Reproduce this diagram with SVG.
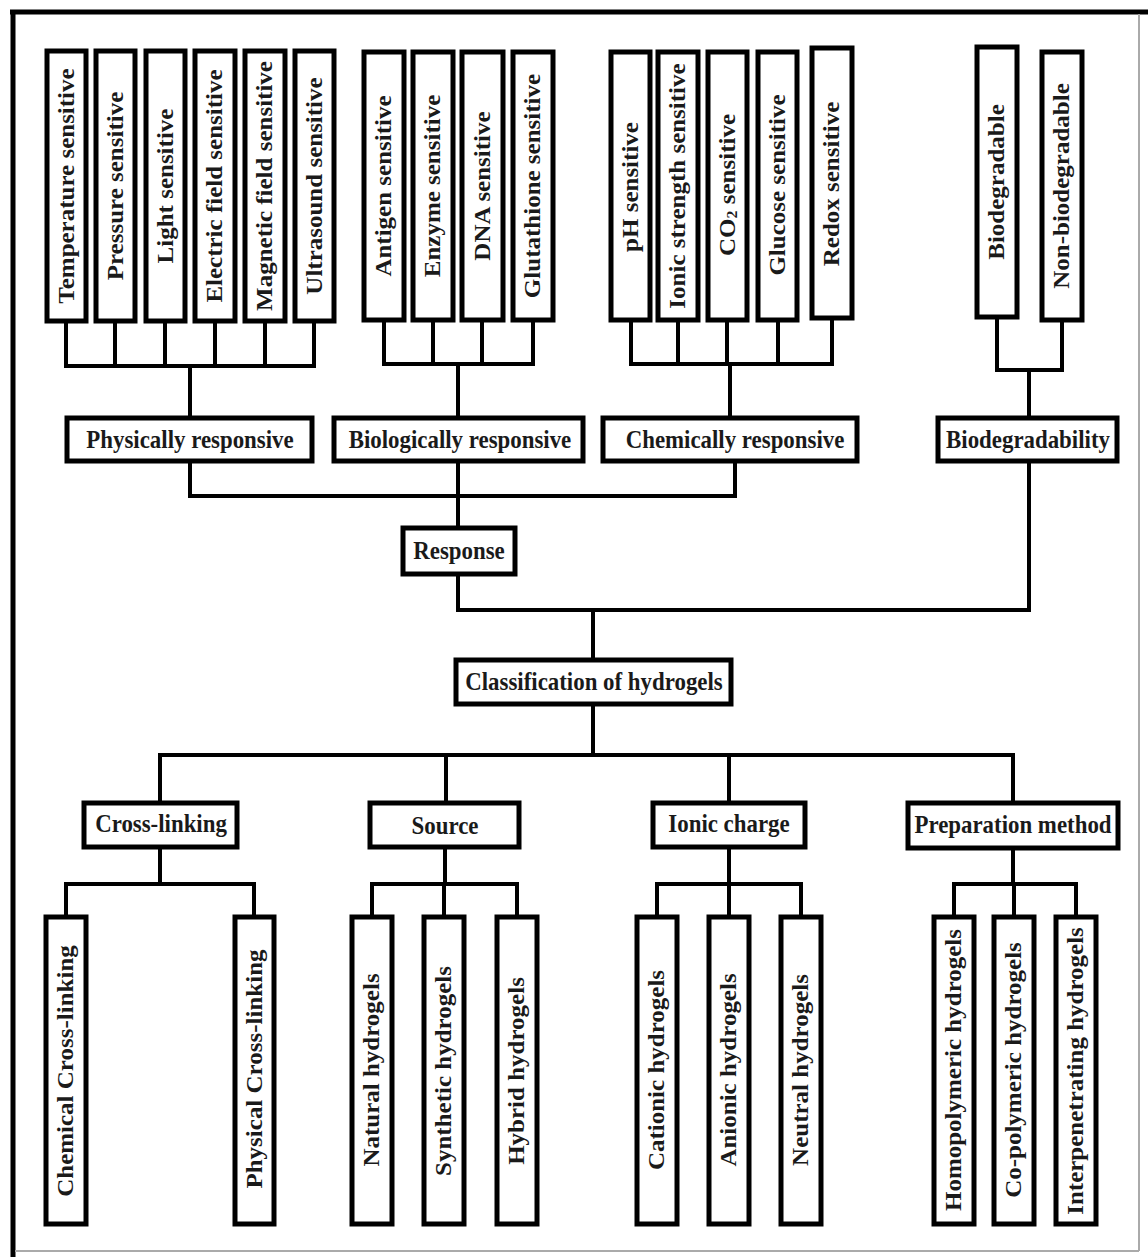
<svg xmlns="http://www.w3.org/2000/svg" width="1148" height="1257" viewBox="0 0 1148 1257">
<style>
.b{fill:#fff;stroke:#000;stroke-width:5}
.c{fill:none;stroke:#000;stroke-width:4;stroke-linecap:square}
text{font-family:"Liberation Serif","Times New Roman",serif;font-weight:bold;font-size:25px;fill:#1a1a1a}
.h{text-anchor:middle}
.v{text-anchor:middle}
</style>
<rect width="1148" height="1257" fill="#fff"/>
<g id="frame">
<line x1="10" y1="12" x2="1148" y2="12" stroke="#000" stroke-width="5"/>
<line x1="13" y1="10" x2="13" y2="1257" stroke="#000" stroke-width="5"/>
<line x1="1139" y1="14" x2="1139" y2="1251" stroke="#aaa" stroke-width="2"/>
<line x1="15" y1="1251" x2="1139" y2="1251" stroke="#aaa" stroke-width="2"/>
</g>
<g id="connectors">
<path class="c" d="M66 320V366H314V320M115 320V366M165 320V366M215 320V366M265 320V366M190 366V418"/>
<path class="c" d="M384 320V364H533V320M433 320V364M482 320V364M458 364V418"/>
<path class="c" d="M631 320V364H832V318M678 320V364M727 320V364M778 320V364M730 364V418"/>
<path class="c" d="M997 318V370H1062V320M1029 370V418"/>
<path class="c" d="M190 461V496H735V461M458 461V528"/>
<path class="c" d="M458 574V610H1029V461M593 610V660"/>
<path class="c" d="M593 704V755M160 803V755H1013V803M446 755V803M729 755V803"/>
<path class="c" d="M160 847V884M66 917V884H254V917"/>
<path class="c" d="M445 847V884M372 917V884H517V917M444 884V917"/>
<path class="c" d="M729 847V884M657 917V884H801V917M729 884V917"/>
<path class="c" d="M1013 848V884M954 917V884H1076V917M1014 884V917"/>
</g>
<g id="n-temperature"><rect class="b" x="47" y="51" width="39" height="270"/><text class="v" transform="translate(66.5,186) scale(0.915,1) rotate(-90)" dy="8">Temperature sensitive</text></g>
<g id="n-pressure"><rect class="b" x="96" y="51" width="39" height="270"/><text class="v" transform="translate(115.5,186) scale(0.915,1) rotate(-90)" dy="8">Pressure sensitive</text></g>
<g id="n-light"><rect class="b" x="146" y="51" width="39" height="270"/><text class="v" transform="translate(165.5,186) scale(0.915,1) rotate(-90)" dy="8">Light sensitive</text></g>
<g id="n-electric"><rect class="b" x="195" y="51" width="40" height="270"/><text class="v" transform="translate(215,186) scale(0.915,1) rotate(-90)" dy="8">Electric field sensitive</text></g>
<g id="n-magnetic"><rect class="b" x="245" y="51" width="40" height="270"/><text class="v" transform="translate(265,186) scale(0.915,1) rotate(-90)" dy="8">Magnetic field sensitive</text></g>
<g id="n-ultrasound"><rect class="b" x="295" y="51" width="39" height="270"/><text class="v" transform="translate(314.5,186) scale(0.915,1) rotate(-90)" dy="8">Ultrasound sensitive</text></g>

<g id="n-antigen"><rect class="b" x="364" y="52" width="40" height="268"/><text class="v" transform="translate(384,186) scale(0.915,1) rotate(-90)" dy="8">Antigen sensitive</text></g>
<g id="n-enzyme"><rect class="b" x="413" y="52" width="40" height="268"/><text class="v" transform="translate(433,186) scale(0.915,1) rotate(-90)" dy="8">Enzyme sensitive</text></g>
<g id="n-dna"><rect class="b" x="462" y="52" width="41" height="268"/><text class="v" transform="translate(482.5,186) scale(0.915,1) rotate(-90)" dy="8">DNA sensitive</text></g>
<g id="n-glutathione"><rect class="b" x="513" y="52" width="40" height="268"/><text class="v" transform="translate(533,186) scale(0.915,1) rotate(-90)" dy="8">Glutathione sensitive</text></g>

<g id="n-ph"><rect class="b" x="611" y="52" width="39" height="268"/><text class="v" transform="translate(630.5,187) scale(0.915,1) rotate(-90)" dy="8">pH sensitive</text></g>
<g id="n-ionic"><rect class="b" x="658" y="52" width="40" height="268"/><text class="v" transform="translate(678,186) scale(0.915,1) rotate(-90)" dy="8">Ionic strength sensitive</text></g>
<g id="n-co2"><rect class="b" x="708" y="52" width="39" height="268"/><text class="v" transform="translate(727.5,185) scale(0.915,1) rotate(-90)" dy="8">CO<tspan font-size="16" dy="2">2</tspan><tspan dy="-2"> sensitive</tspan></text></g>
<g id="n-glucose"><rect class="b" x="758" y="52" width="39" height="268"/><text class="v" transform="translate(777.5,185) scale(0.915,1) rotate(-90)" dy="8">Glucose sensitive</text></g>
<g id="n-redox"><rect class="b" x="812" y="48" width="40" height="270"/><text class="v" transform="translate(832,184) scale(0.915,1) rotate(-90)" dy="8">Redox sensitive</text></g>

<g id="n-biodegradable"><rect class="b" x="977" y="47" width="40" height="270"/><text class="v" transform="translate(997,182) scale(0.915,1) rotate(-90)" dy="8">Biodegradable</text></g>
<g id="n-nonbiodegradable"><rect class="b" x="1042" y="52" width="40" height="268"/><text class="v" transform="translate(1062,186) scale(0.915,1) rotate(-90)" dy="8">Non-biodegradable</text></g>

<g id="n-physically"><rect class="b" x="67" y="418" width="245" height="43"/><text class="h" transform="translate(190,448) scale(0.915,1)">Physically responsive</text></g>
<g id="n-biologically"><rect class="b" x="334" y="418" width="249" height="43"/><text class="h" transform="translate(460,448) scale(0.915,1)">Biologically responsive</text></g>
<g id="n-chemically"><rect class="b" x="603" y="418" width="254" height="43"/><text class="h" transform="translate(735,448) scale(0.915,1)">Chemically responsive</text></g>
<g id="n-biodegradability"><rect class="b" x="938" y="418" width="179" height="43"/><text class="h" transform="translate(1028,448) scale(0.915,1)">Biodegradability</text></g>
<g id="n-response"><rect class="b" x="403" y="528" width="112" height="46"/><text class="h" transform="translate(459,559) scale(0.915,1)">Response</text></g>
<g id="n-classification"><rect class="b" x="456" y="660" width="275" height="44"/><text class="h" transform="translate(594,690) scale(0.915,1)">Classification of hydrogels</text></g>

<g id="n-crosslinking"><rect class="b" x="84" y="803" width="153" height="44"/><text class="h" transform="translate(161,832) scale(0.915,1)">Cross-linking</text></g>
<g id="n-source"><rect class="b" x="370" y="803" width="149" height="44"/><text class="h" transform="translate(445,834) scale(0.915,1)">Source</text></g>
<g id="n-ioniccharge"><rect class="b" x="653" y="803" width="152" height="44"/><text class="h" transform="translate(729,832) scale(0.915,1)">Ionic charge</text></g>
<g id="n-preparation"><rect class="b" x="908" y="803" width="210" height="45"/><text class="h" transform="translate(1013,833) scale(0.915,1)">Preparation method</text></g>

<g id="n-chemicalcl"><rect class="b" x="46" y="917" width="40" height="307"/><text class="v" transform="translate(66,1071) scale(0.915,1) rotate(-90)" dy="8">Chemical Cross-linking</text></g>
<g id="n-physicalcl"><rect class="b" x="235" y="917" width="39" height="307"/><text class="v" transform="translate(254.5,1069) scale(0.915,1) rotate(-90)" dy="8">Physical Cross-linking</text></g>
<g id="n-natural"><rect class="b" x="352" y="917" width="40" height="307"/><text class="v" transform="translate(372,1070) scale(0.915,1) rotate(-90)" dy="8">Natural hydrogels</text></g>
<g id="n-synthetic"><rect class="b" x="424" y="917" width="40" height="307"/><text class="v" transform="translate(444,1071) scale(0.915,1) rotate(-90)" dy="8">Synthetic hydrogels</text></g>
<g id="n-hybrid"><rect class="b" x="497" y="917" width="40" height="307"/><text class="v" transform="translate(517,1071) scale(0.915,1) rotate(-90)" dy="8">Hybrid hydrogels</text></g>
<g id="n-cationic"><rect class="b" x="637" y="917" width="40" height="307"/><text class="v" transform="translate(657,1070) scale(0.915,1) rotate(-90)" dy="8">Cationic hydrogels</text></g>
<g id="n-anionic"><rect class="b" x="709" y="917" width="40" height="307"/><text class="v" transform="translate(729,1070) scale(0.915,1) rotate(-90)" dy="8">Anionic hydrogels</text></g>
<g id="n-neutral"><rect class="b" x="781" y="917" width="40" height="307"/><text class="v" transform="translate(801,1070) scale(0.915,1) rotate(-90)" dy="8">Neutral hydrogels</text></g>
<g id="n-homopolymeric"><rect class="b" x="934" y="917" width="40" height="307"/><text class="v" transform="translate(954,1070) scale(0.915,1) rotate(-90)" dy="8">Homopolymeric hydrogels</text></g>
<g id="n-copolymeric"><rect class="b" x="994" y="917" width="40" height="307"/><text class="v" transform="translate(1014,1070) scale(0.915,1) rotate(-90)" dy="8">Co-polymeric hydrogels</text></g>
<g id="n-interpenetrating"><rect class="b" x="1056" y="917" width="40" height="307"/><text class="v" transform="translate(1076,1071) scale(0.915,1) rotate(-90)" dy="8">Interpenetrating hydrogels</text></g>
</svg>
